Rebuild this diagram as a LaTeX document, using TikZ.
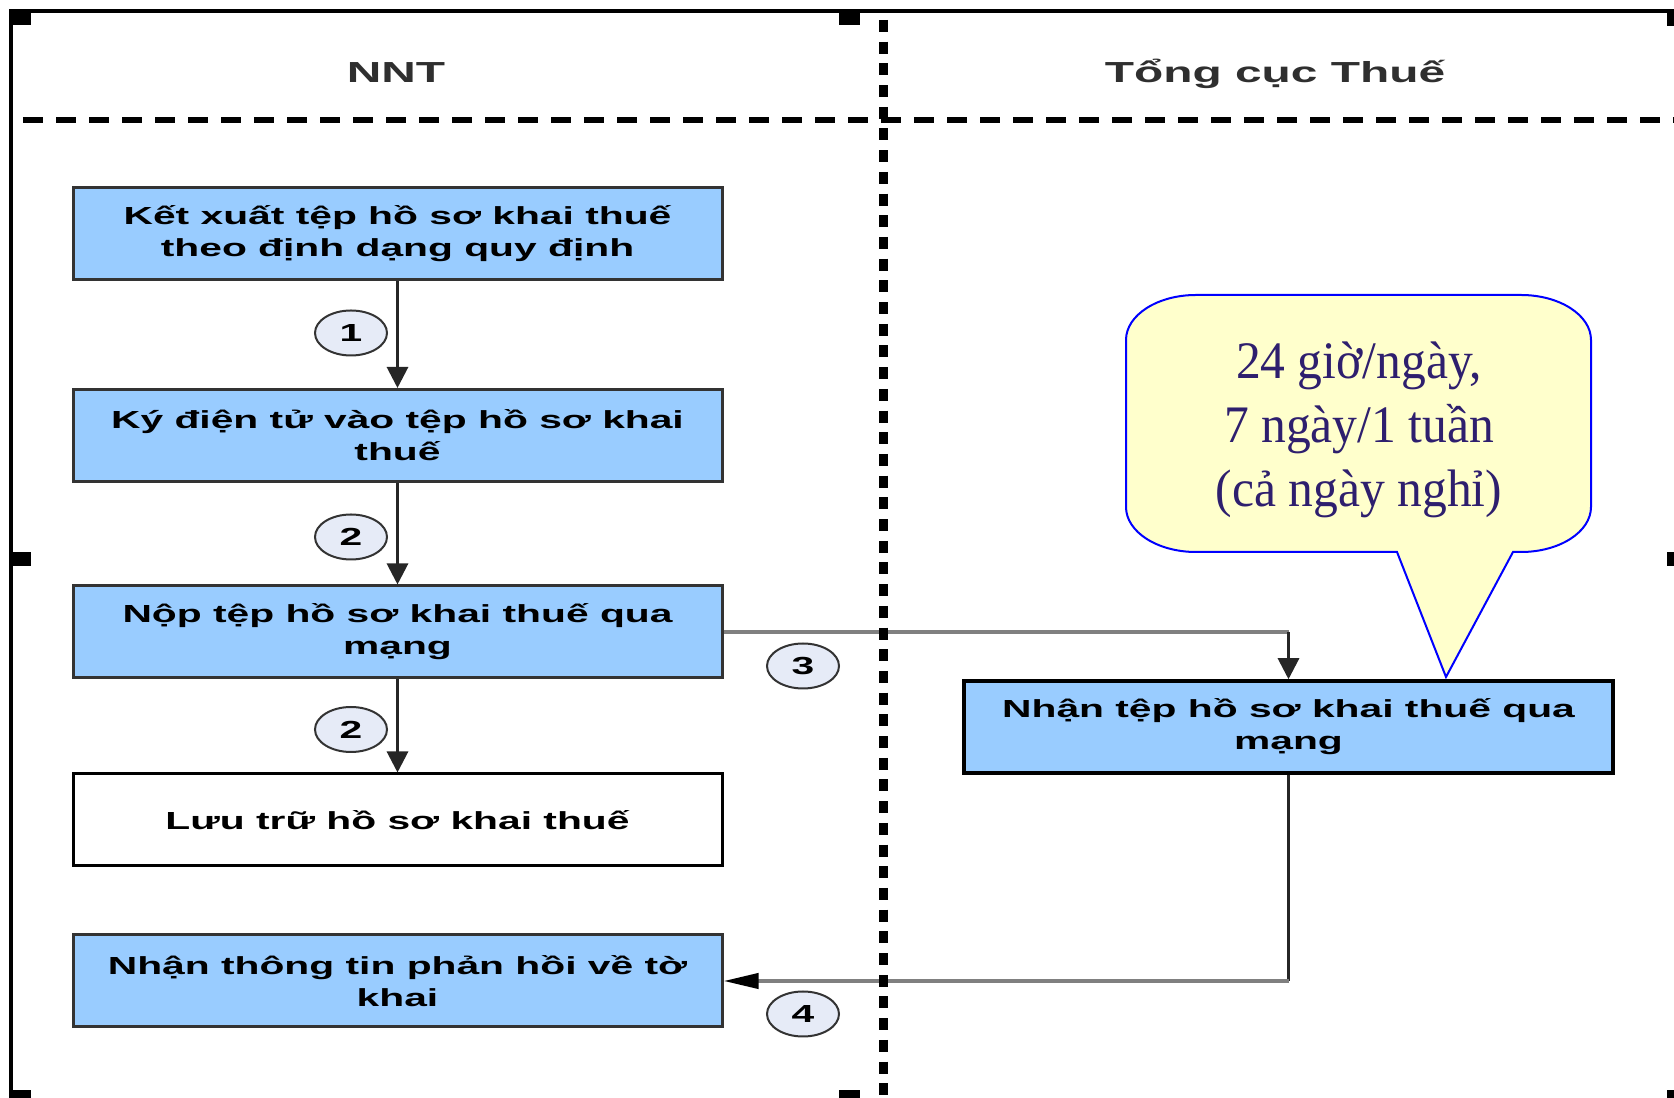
\documentclass[tikz,border=0pt]{standalone}
\usepackage{fontspec}
\usepackage{tikz}
\usetikzlibrary{arrows.meta,shapes.geometric}
\newfontfamily\boxfont[FakeStretch=1.65]{Liberation Sans}
\newfontfamily\notefont[FakeStretch=0.94]{Liberation Serif}
\definecolor{boxblue}{HTML}{99CCFF}
\definecolor{numfill}{HTML}{E6EBF7}
\definecolor{notefill}{HTML}{FFFFCC}
\definecolor{notetext}{HTML}{2E1F6E}
\definecolor{edgegray}{HTML}{808080}
\definecolor{headgray}{HTML}{2F2F2F}

\begin{document}
\begin{tikzpicture}[
        taskbox/.style={draw=black!80, line width=0.03cm, fill=boxblue, minimum width=6.49cm, minimum height=0.92cm, inner sep=0pt, align=center, font=\boxfont\bfseries\fontsize{7.03}{9.1}\selectfont},
        numtag/.style={ellipse, draw=black!80, line width=0.02cm, fill=numfill, minimum width=0.72cm, minimum height=0.45cm, inner sep=0pt, font=\boxfont\bfseries\fontsize{7.03}{9.1}\selectfont},
        flow/.style={draw=black!85, line width=0.03cm, -{Triangle[length=0.21cm,width=0.21cm]}},
        flowh/.style={draw=edgegray, line width=0.04cm},
        lanehead/.style={font=\boxfont\bfseries\fontsize{8.25}{10}\selectfont, text=headgray, anchor=base},
        notetxt/.style={font=\notefont\fontsize{15}{18.2}\selectfont, text=notetext, anchor=base}
    ]
        \useasboundingbox (0,0) rectangle (16.74,-10.98);

        % lane titles
        \node[lanehead] (nnt) at (3.96,-0.83) {NNT};
        \node[lanehead] (tct) at (12.75,-0.83) {Tổng cục Thuế};

        % steps
        \node[taskbox] (ketxuat) at (3.975,-2.34) {Kết xuất tệp hồ sơ khai thuế\\theo định dạng quy định};
        \node[taskbox] (kydt) at (3.975,-4.355) {Ký điện tử vào tệp hồ sơ khai\\thuế};
        \node[taskbox] (nop) at (3.975,-6.32) {Nộp tệp hồ sơ khai thuế qua\\mạng};
        \node[taskbox, fill=white, draw=black] (luutru) at (3.975,-8.20) {Lưu trữ hồ sơ khai thuế};
        \node[taskbox] (phanhoi) at (3.975,-9.81) {Nhận thông tin phản hồi về tờ\\khai};
        \node[taskbox, draw=black, line width=0.035cm] (nhantep) at (12.885,-7.27) {Nhận tệp hồ sơ khai thuế qua\\mạng};

        % callout
        \draw[draw=blue, line width=0.02cm, fill=notefill] (11.26,-3.40)
            arc[start angle=180, end angle=90, x radius=0.70, y radius=0.45] -- (15.21,-2.95)
            arc[start angle=90, end angle=0, x radius=0.70, y radius=0.45] -- (15.91,-5.07)
            arc[start angle=0, end angle=-90, x radius=0.70, y radius=0.45] -- (15.13,-5.52)
            -- (14.46,-6.77) -- (13.97,-5.52) -- (11.96,-5.52)
            arc[start angle=270, end angle=180, x radius=0.70, y radius=0.45] -- cycle;
        \node[notetxt] (note1) at (13.59,-3.79) {24 giờ/ngày,};
        \node[notetxt] (note2) at (13.59,-4.43) {7 ngày/1 tuần};
        \node[notetxt] (note3) at (13.59,-5.07) {(cả ngày nghỉ)};

        % arrows
        \draw[flow] (ketxuat) -- (kydt);
        \draw[flow] (kydt) -- (nop);
        \draw[flow] (nop) -- (luutru);

        \coordinate (bend3) at (nop.east -| nhantep.north);
        \draw[flowh] (nop.east) -- (bend3);
        \draw[flow] (bend3) -- (nhantep.north);

        \coordinate (bend4) at (phanhoi.east -| nhantep.south);
        \draw[draw=black!85, line width=0.03cm] (nhantep.south) -- (bend4);
        \draw[flowh, -{Triangle[length=0.35cm,width=0.15cm,color=black]}] (bend4) -- (phanhoi.east);

        \node[numtag] (tag1) at (3.51,-3.33) {1};
        \node[numtag] (tag2) at (3.51,-5.37) {2};
        \node[numtag] (tag2b) at (3.51,-7.295) {2};
        \node[numtag] (tag3) at (8.03,-6.66) {3};
        \node[numtag] (tag4) at (8.03,-10.14) {4};

        % frame and lanes
        \draw[line width=0.035cm] (0.11,-10.98) -- (0.11,-0.11) -- (16.74,-0.11);
        \draw[line width=0.06cm, dash pattern=on 0.2cm off 0.13cm] (0.23,-1.20) -- (16.74,-1.20);
        \draw[line width=0.09cm, dash pattern=on 0.12cm off 0.097cm] (8.83,-0.20) -- (8.83,-10.98);

        % handles
        \foreach \hx/\hy in {0.10/0.11, 8.39/0.11, 16.67/0.12, 0.10/5.52, 16.67/5.52, 0.10/10.90, 8.39/10.90, 16.67/10.90}
            \fill (\hx,-\hy) rectangle ++(0.21,-0.14);
    \end{tikzpicture}
\end{document}
